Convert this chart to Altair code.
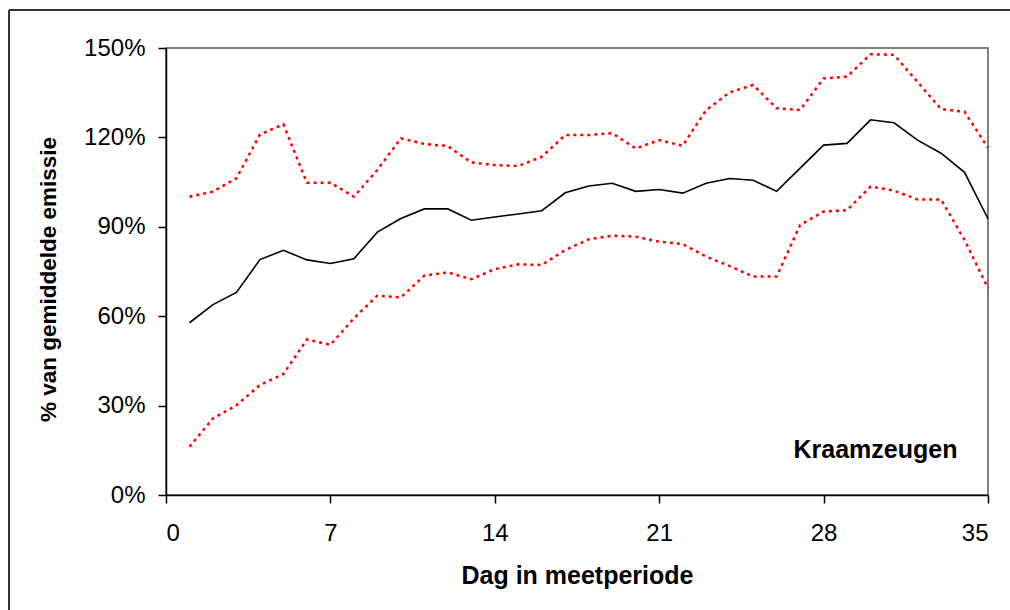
import altair as alt
import pandas as pd

days = list(range(1, 36))
mean_vals = [57.8, 63.9, 68.0, 79.0, 82.1, 78.9, 77.7, 79.3, 88.2, 92.8,
             96.0, 96.0, 92.2, 93.3, 94.3, 95.4, 101.4, 103.7, 104.6, 101.9,
             102.5, 101.3, 104.6, 106.2, 105.6, 101.9, 109.7, 117.4, 118.0, 125.9,
             124.9, 119.1, 114.7, 108.3, 92.7]
upper_vals = [100.1, 101.8, 106.3, 121.0, 124.4, 104.8, 104.8, 100.1, 109.1, 119.7,
              117.8, 117.1, 111.6, 110.7, 110.4, 113.5, 120.8, 120.8, 121.4, 116.3,
              119.1, 117.2, 129.2, 135.1, 137.6, 129.8, 129.2, 139.8, 140.4, 147.9,
              147.7, 138.6, 129.5, 128.6, 116.5]
lower_vals = [16.2, 25.7, 30.1, 36.9, 40.6, 52.2, 50.4, 59.3, 66.9, 66.3,
              73.6, 74.7, 72.4, 75.8, 77.4, 77.2, 82.2, 85.8, 87.0, 86.7,
              85.0, 84.2, 80.0, 76.8, 73.3, 73.3, 90.6, 95.1, 95.6, 103.5,
              102.1, 99.2, 99.2, 85.6, 69.4]
x_ticks = [0, 7, 14, 21, 28, 35]
y_ticks = [0, 0.3, 0.6, 0.9, 1.2, 1.5]
label_text = "Kraamzeugen"

FONT = "Liberation Sans"

mean_df = pd.DataFrame({"dag": days, "waarde": [v / 100 for v in mean_vals]})
bounds_df = pd.concat([
    pd.DataFrame({"dag": days, "waarde": [v / 100 for v in upper_vals], "reeks": "boven"}),
    pd.DataFrame({"dag": days, "waarde": [v / 100 for v in lower_vals], "reeks": "onder"}),
])

x_enc = alt.X("dag:Q", scale=alt.Scale(domain=[0, 35], nice=False),
              axis=alt.Axis(values=x_ticks, title="Dag in meetperiode", grid=False,
                            labelFontSize=24, titleFontSize=25, titleFontWeight="bold",
                            labelPadding=18, tickSize=8, titlePadding=18,
                            domainColor="black", tickColor="black", labelColor="black",
                            titleColor="black"))
y_enc = alt.Y("waarde:Q", scale=alt.Scale(domain=[0, 1.5], nice=False),
              axis=alt.Axis(values=y_ticks, format=".0%", title="% van gemiddelde emissie",
                            grid=False, labelFontSize=24, titleFontSize=22.5,
                            titleFontWeight="bold", labelPadding=13, tickSize=8,
                            titlePadding=23, titleY=231,
                            domainColor="black", tickColor="black", labelColor="black",
                            titleColor="black"))

mean_line = alt.Chart(mean_df).mark_line(color="black", strokeWidth=1.6).encode(x=x_enc, y=y_enc)

bound_lines = alt.Chart(bounds_df).mark_line(color="#ff0000", strokeWidth=2.5,
                                             strokeDash=[3, 4]).encode(
    x="dag:Q", y="waarde:Q", detail="reeks:N")

label = alt.Chart(pd.DataFrame({"dag": [33.7], "waarde": [0.151], "t": [label_text]})).mark_text(
    align="right", baseline="middle", fontSize=25, fontWeight="bold", font=FONT, color="black"
).encode(x="dag:Q", y="waarde:Q", text="t:N")

frame_left = alt.Chart(pd.DataFrame({"a": [0]})).mark_rule(color="#333333", strokeWidth=2).encode(
    x=alt.value(-157), y=alt.value(-38), y2=alt.value(570))
frame_top = alt.Chart(pd.DataFrame({"a": [0]})).mark_rule(color="#333333", strokeWidth=2).encode(
    x=alt.value(-157), x2=alt.value(850), y=alt.value(-38))

chart = alt.layer(frame_left, frame_top, bound_lines, mean_line, label).properties(
    width=822, height=447,
    autosize=alt.AutoSizeParams(type="none"),
    padding={"left": 166, "top": 48, "right": 22, "bottom": 115},
    background="white",
).configure_view(stroke="#808080", strokeWidth=2).configure_axis(
    labelFont=FONT, titleFont=FONT, domainWidth=1.5, tickWidth=1.5
)

chart.save("out.html", embed_options={"renderer": "svg", "actions": False})
